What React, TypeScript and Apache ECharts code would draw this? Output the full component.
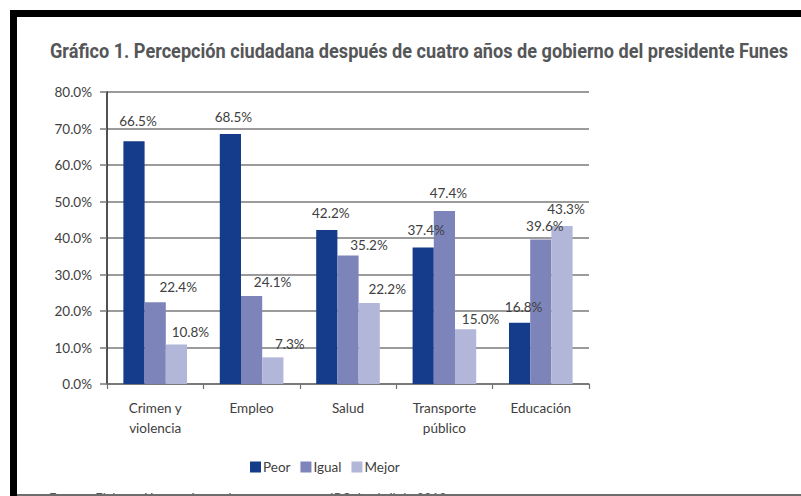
import React, { useEffect, useRef } from "react";
import * as echarts from "echarts";

const titleText =
  "Gráfico 1. Percepción ciudadana después de cuatro años de gobierno del presidente Funes";
const footerText =
  "Fuente: Elaboración propia con base en encuesta IPC de abril de 2013";

const categories = ["Crimen y\nviolencia", "Empleo", "Salud", "Transporte\npúblico", "Educación"];
const seriesNames = ["Peor", "Igual", "Mejor"];
const peor = [66.5, 68.5, 42.2, 37.4, 16.8];
const igual = [22.4, 24.1, 35.2, 47.4, 39.6];
const mejor = [10.8, 7.3, 22.2, 15.0, 43.3];
const yTicks = { min: 0, max: 80, interval: 10 };

// label nudges (dx, dy) relative to the top of each bar, as placed in the original
const peorLabelNudge = [[4, -13], [3, -10], [4, -10], [3, -10], [4, -9]];
const igualLabelNudge = [[23, -8], [21, -7], [21, -4], [4, -11], [4, -6]];
const mejorLabelNudge = [[14, -6], [17, -6], [18, -7], [15, -3], [4, -10]];

const colors = ["#143c8a", "#7d84ba", "#b2b6d9"];
const FONT = "Lato, 'Open Sans', sans-serif";
const TXT = "#404040";

function measure(text: string, font: string) {
  const c = document.createElement("canvas").getContext("2d");
  if (!c) return 900;
  c.font = font;
  return c.measureText(text).width;
}

export default function App() {
  const ref = useRef<HTMLDivElement>(null);
  useEffect(() => {
    if (!ref.current) return;
    const chart = echarts.init(ref.current, null, { renderer: "svg" });
    const titleFont = "bold 21px Roboto";
    const titleW = measure(titleText, titleFont);
    const titleScale = 739 / titleW;

    const mk = (name: string, vals: number[], nudge: number[][], color: string) => ({
      name,
      type: "bar",
      barGap: "0%",
      barCategoryGap: "34%",
      itemStyle: { color },
      data: vals.map((v, i) => ({
        value: v,
        label: { offset: nudge[i] },
      })),
      label: {
        show: true,
        position: "top",
        distance: 0,
        formatter: (p: any) => p.value.toFixed(1) + "%",
        color: TXT,
        fontFamily: FONT,
        fontSize: 13.5,
      },
    });

    chart.setOption({
      animation: false,
      backgroundColor: "#fff",
      grid: { left: 107, right: 212, top: 92, bottom: 112 },
      legend: {
        data: seriesNames,
        left: 245,
        top: 455,
        icon: "rect",
        itemWidth: 11,
        itemHeight: 11,
        itemGap: 10,
        textStyle: { color: TXT, fontFamily: FONT, fontSize: 13.5, padding: [0, 0, 0, -3] },
      },
      xAxis: {
        type: "category",
        data: categories,
        axisLine: { lineStyle: { color: "#6f6f6f", width: 1.5 } },
        axisTick: { show: true, length: 5, lineStyle: { color: "#6f6f6f", width: 1.2 } },
        axisLabel: {
          color: TXT,
          fontFamily: FONT,
          fontSize: 13.5,
          lineHeight: 20,
          margin: 14,
        },
      },
      yAxis: {
        type: "value",
        min: yTicks.min,
        max: yTicks.max,
        interval: yTicks.interval,
        axisLine: { show: true, lineStyle: { color: "#262626", width: 1.6 } },
        axisTick: { show: true, length: 7, lineStyle: { color: "#7a7a7a", width: 1.5 } },
        splitLine: { show: true, lineStyle: { color: "#7a7a7a", width: 1.5 } },
        axisLabel: {
          color: TXT,
          fontFamily: FONT,
          fontSize: 13.5,
          margin: 15,
          formatter: (v: number) => v.toFixed(1) + "%",
        },
      },
      series: [
        mk(seriesNames[0], peor, peorLabelNudge, colors[0]),
        mk(seriesNames[1], igual, igualLabelNudge, colors[1]),
        mk(seriesNames[2], mejor, mejorLabelNudge, colors[2]),
      ],
      graphic: [
        { type: "rect", left: 10, top: 10, shape: { width: 791, height: 7 }, style: { fill: "#000" } },
        { type: "rect", left: 10, top: 10, shape: { width: 7, height: 486 }, style: { fill: "#000" } },
        {
          type: "text",
          x: 50,
          y: 41,
          scaleX: titleScale,
          style: {
            text: titleText,
            font: titleFont,
            fill: "#555658",
            textVerticalAlign: "top",
          },
        },
        {
          type: "text",
          x: 49,
          y: 491,
          style: {
            text: footerText,
            font: "13px Lato",
            fill: "#58595b",
            textVerticalAlign: "top",
          },
        },
        { type: "rect", left: 17, top: 494, z: 100, shape: { width: 784, height: 2 }, style: { fill: "#6d6d6d" } },
      ],
    });
    return () => chart.dispose();
  }, []);
  return (
    <div
      ref={ref}
      style={{ position: "fixed", left: 0, top: 0, width: 801, height: 496, background: "#fff" }}
    />
  );
}
